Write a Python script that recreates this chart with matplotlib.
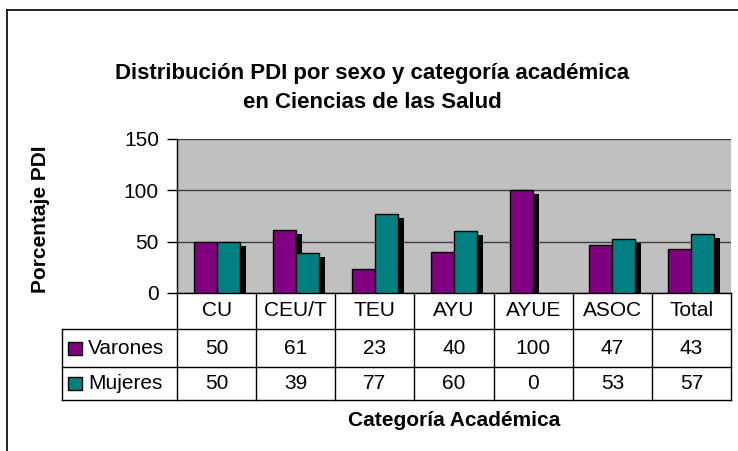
import numpy as np
import matplotlib
matplotlib.use('Agg')
from matplotlib import pyplot as plt
from matplotlib import transforms as mtransforms
from matplotlib.patches import Rectangle
from matplotlib.lines import Line2D

plt.rcParams['font.family'] = ['Liberation Sans', 'DejaVu Sans']

# data
categorias = ['CU', 'CEU/T', 'TEU', 'AYU', 'AYUE', 'ASOC', 'Total']
varones = [50, 61, 23, 40, 100, 47, 43]
mujeres = [50, 39, 77, 60, 0, 53, 57]
series = ['Varones', 'Mujeres']
colores = ['#800080', '#008080']
yticks = [0, 50, 100, 150]

W, H = 738, 451
fig = plt.figure(figsize=(W / 100, H / 100), dpi=100)
fig.patch.set_facecolor('white')

# plot area in pixels: left 177, right 731, top 139, bottom 293
ax = fig.add_axes([177 / W, 1 - 293 / H, 554 / W, 154 / H])
ax.set_facecolor('#C0C0C0')

x = np.arange(len(categorias))
bw = 0.29
sombra = mtransforms.offset_copy(ax.transData, fig, x=6, y=-4, units='dots')

for vals, col, off in [(varones, colores[0], -bw / 2), (mujeres, colores[1], bw / 2)]:
    lw = [1 if v > 0 else 0 for v in vals]  # empty bars leave no outline
    ax.bar(x + off, vals, bw, color='black', transform=sombra, zorder=2)
    ax.bar(x + off, vals, bw, color=col, edgecolor='black', linewidth=lw, zorder=3)

ax.set_xlim(-0.5, len(categorias) - 0.5)
ax.set_ylim(0, 150)
ax.set_yticks(yticks)
ax.set_xticks([])
ax.tick_params(axis='y', length=7, width=1, pad=6, labelsize=15, colors='black')
ax.yaxis.grid(True, color='#404040', linewidth=1)
ax.set_axisbelow(True)
for s in ['top', 'right']:
    ax.spines[s].set_visible(False)
for s in ['left', 'bottom']:
    ax.spines[s].set_linewidth(1)

# data table below the axis
tr = mtransforms.blended_transform_factory(ax.transData, ax.transAxes)
px = 154.0
y_rows = [0, -36 / px, -74 / px, -107 / px]
x_left = -0.5 - (177 - 62) / 79.14
x_right = len(categorias) - 0.5
for yy in y_rows[1:]:
    ax.add_line(Line2D([x_left, x_right], [yy, yy], color='black', lw=1,
                       transform=tr, clip_on=False))
ax.add_line(Line2D([x_left, x_left], [y_rows[1], y_rows[3]], color='black', lw=1,
                   transform=tr, clip_on=False))
for i in range(len(categorias) + 1):
    ax.add_line(Line2D([i - 0.5, i - 0.5], [0, y_rows[3]], color='black', lw=1,
                       transform=tr, clip_on=False))

def centro(r):
    return (y_rows[r] + y_rows[r + 1]) / 2

for i, c in enumerate(categorias):
    ax.text(i, centro(0), c, ha='center', va='center', fontsize=15, transform=tr)
    ax.text(i, centro(1), str(varones[i]), ha='center', va='center', fontsize=15, transform=tr)
    ax.text(i, centro(2), str(mujeres[i]), ha='center', va='center', fontsize=15, transform=tr)

key_x = -0.5 - (177 - 68) / 79.14
lab_x = -0.5 - (177 - 88) / 79.14
for r, (nom, col) in enumerate(zip(series, colores)):
    yc = centro(r + 1)
    ax.add_patch(Rectangle((key_x, yc - 6.5 / px), 14 / 79.14, 13 / px,
                           facecolor=col, edgecolor='black', lw=1,
                           transform=tr, clip_on=False))
    ax.text(lab_x, yc, nom, ha='left', va='center', fontsize=15, transform=tr)

# titles and axis labels
fig.text(372 / W, 1 - 87.5 / H,
         'Distribución PDI por sexo y categoría académica\nen Ciencias de las Salud',
         ha='center', va='center', fontsize=16, fontweight='bold', linespacing=1.5)
fig.text(41 / W, 1 - 219 / H, 'Porcentaje PDI', rotation=90, ha='center', va='center',
         fontsize=15, fontweight='bold')
fig.text(454 / W, 1 - 421 / H, 'Categoría Académica', ha='center', va='center',
         fontsize=15, fontweight='bold')

# outer chart frame (runs off the right and bottom edges)
fig.add_artist(Line2D([7 / W, 7 / W], [0, 1 - 10 / H], color='black', lw=1.2,
                      transform=fig.transFigure))
fig.add_artist(Line2D([7 / W, 1], [1 - 10 / H, 1 - 10 / H], color='black', lw=1.2,
                      transform=fig.transFigure))

fig.savefig('out.png', dpi=100)
